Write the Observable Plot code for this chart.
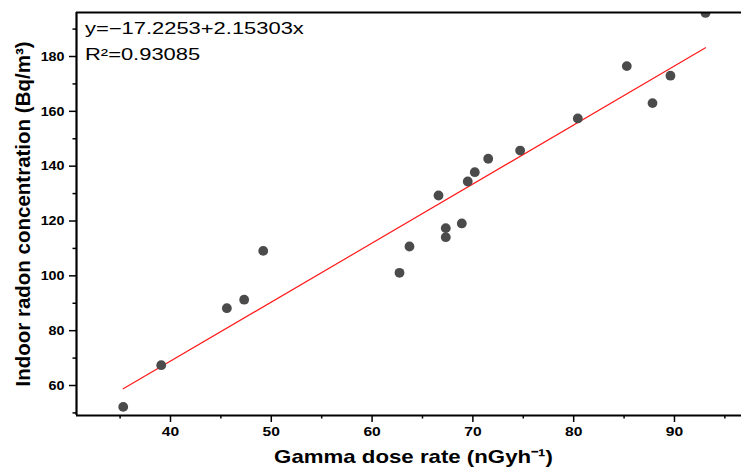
<!DOCTYPE html>
<html>
<head>
<meta charset="utf-8">
<script src="https://cdn.jsdelivr.net/npm/d3@7"></script>
<script src="https://cdn.jsdelivr.net/npm/@observablehq/plot@0.6"></script>
<style>
  html, body { margin: 0; padding: 0; background: #fff; }
</style>
</head>
<body>
<div id="chart"></div>
<script>
// ---- data ----
const gamma = [35.31, 39.08, 45.59, 47.31, 49.20, 62.72, 63.71, 67.31, 67.31, 68.90, 66.59, 69.49, 70.19, 71.52, 74.69, 80.41, 85.27, 87.82, 89.60, 93.08];
const radon = [52.2, 67.4, 88.2, 91.3, 109.1, 101.1, 110.7, 117.4, 114.1, 119.1, 129.3, 134.4, 137.8, 142.7, 145.7, 157.4, 176.5, 163.0, 173.0, 195.9];
const fitIntercept = -17.2253;
const fitSlope = 2.15303;
const equationLines = ["y=\u221217.2253+2.15303x", "R\u00B2=0.93085"];
const xTitle = "Gamma dose rate (nGyh\u207B\u00B9)";
const yTitle = "Indoor radon concentration (Bq/m\u00B3)";
const xTicks = [40, 50, 60, 70, 80, 90];
const xMinorTicks = [35, 45, 55, 65, 75, 85, 95];
const yTicks = [60, 80, 100, 120, 140, 160, 180];
const yMinorTicks = [50, 70, 90, 110, 130, 150, 170, 190];
const xDomain = [30.675, 96.65];
const yDomain = [49.06, 196.05];

const points = gamma.map((g, i) => ({gamma: g, radon: radon[i]}));
const xExtent = d3.extent(gamma);
const fit = xExtent.map(x => ({gamma: x, radon: fitIntercept + fitSlope * x}));

const chart = Plot.plot({
  width: 741,
  height: 473,
  marginLeft: 76,
  marginRight: 0,
  marginTop: 12,
  marginBottom: 58,
  x: {domain: xDomain},
  y: {domain: yDomain},
  style: {fontFamily: "'Liberation Sans', Arial, sans-serif", background: "#fff", color: "#000"},
  marks: [
    Plot.axisX(xMinorTicks, {tickSize: 3.5, tickFormat: () => "", strokeWidth: 1.5, label: null}),
    Plot.axisX(xTicks, {tickSize: 7, tickPadding: 4.5, fontSize: 13, fontWeight: "bold", strokeWidth: 1.5, label: null}),
    Plot.axisY(yMinorTicks, {tickSize: 3.5, tickFormat: () => "", strokeWidth: 1.5, label: null}),
    Plot.axisY(yTicks, {tickSize: 7, tickPadding: 5, fontSize: 13, fontWeight: "bold", strokeWidth: 1.5, label: null}),
    Plot.line(fit, {x: "gamma", y: "radon", stroke: "#ff1a1a", strokeWidth: 1.2}),
    Plot.dot(points, {x: "gamma", y: "radon", r: 4.9, fill: "#4b4b4b", stroke: "none", clip: true}),
    Plot.ruleX([xDomain[0]], {stroke: "#000", strokeWidth: 2.2}),
    Plot.ruleY([yDomain[0]], {stroke: "#000", strokeWidth: 2.2}),
    Plot.ruleY([yDomain[1]], {stroke: "#000", strokeWidth: 2.2}),
    Plot.text([equationLines[0]], {frameAnchor: "top-left", dx: 8.5, dy: 10, lineAnchor: "top", textAnchor: "start", fontSize: 16, fill: "#000"}),
    Plot.text([equationLines[1]], {frameAnchor: "top-left", dx: 8.5, dy: 36, lineAnchor: "top", textAnchor: "start", fontSize: 16, fill: "#000"}),
    Plot.text([xTitle], {frameAnchor: "bottom", dx: 4.5, dy: 41, lineAnchor: "middle", textAnchor: "middle", fontSize: 19, fontWeight: "bold", fill: "#000"}),
    Plot.text([yTitle], {frameAnchor: "left", dx: -53, dy: 0, rotate: -90, lineAnchor: "middle", textAnchor: "middle", fontSize: 20.5, fontWeight: "bold", fill: "#000"})
  ]
});

document.getElementById("chart").append(chart);

// the reference's lettering is horizontally stretched; emulate with textLength
function stretchEl(el, k) {
  const L = el.getComputedTextLength();
  if (L > 0) {
    el.setAttribute("textLength", (L * k).toFixed(2));
    el.setAttribute("lengthAdjust", "spacingAndGlyphs");
  }
}
const texts = Array.from(chart.querySelectorAll("text"));
texts.forEach(el => {
  const s = el.textContent;
  const g = el.closest("g");
  const gl = g ? (g.getAttribute("aria-label") || "") : "";
  if (equationLines.includes(s)) stretchEl(el, 1.37);
  else if (s === xTitle) stretchEl(el, 1.17);
  else if (gl.startsWith("x-axis")) stretchEl(el, 1.2);
  else if (gl.startsWith("y-axis")) stretchEl(el, 1.1);
});
</script>
</body>
</html>
